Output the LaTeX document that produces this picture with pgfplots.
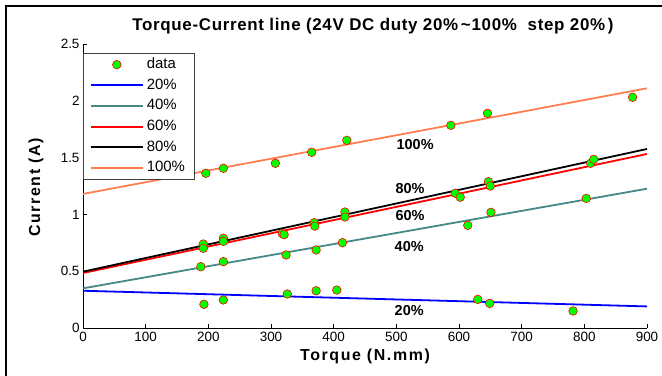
\documentclass[border=0pt]{standalone}
\usepackage{pgfplots}
\pgfplotsset{compat=1.18}
\usepackage{fontspec}
\setmainfont{Liberation Sans}
\definecolor{c20}{RGB}{0,0,255}
\definecolor{c40}{RGB}{70,135,135}
\definecolor{c60}{RGB}{255,0,0}
\definecolor{c80}{RGB}{0,0,0}
\definecolor{c100}{RGB}{255,127,80}
\definecolor{mk}{RGB}{0,255,0}
\begin{document}
\begin{tikzpicture}
\useasboundingbox (-83bp,-48bp) rectangle (579bp,328bp);
\begin{axis}[
  scale only axis, width=564bp, height=284bp,
  xmin=0, xmax=900, ymin=0, ymax=2.5,
  axis lines*=left, axis line style={-, line width=0.8bp},
  xtick={0,100,...,900}, ytick={0,0.5,1,1.5,2,2.5},
  tick align=inside, major tick length=4bp,
  tick style={black, line width=0.6bp},
  /pgf/number format/assume math mode=true,
  ticklabel style={font=\fontsize{13.5}{15}\selectfont},
  yticklabels={0,0.5,1,1.5,2,2.5},
  xticklabel style={yshift=-1bp},
  clip=false,
  legend cell align=left,
  legend style={at={(0,1)}, anchor=north west, yshift=-9bp, draw=black!75, line width=0.6bp,
    font=\fontsize{15}{17}\selectfont, inner xsep=6.5bp, inner ysep=1bp,
    nodes={text height=10.5bp, text depth=3bp, inner ysep=3.6bp, inner xsep=3bp}},
  legend image code/.code={\draw[mark repeat=2,mark phase=2,#1] plot coordinates {(0bp,0bp) (26bp,0bp) (52bp,0bp)};},
]
\addlegendimage{only marks, mark=*, mark size=4.3bp, mark options={fill=mk, draw=red, line width=0.6bp}}
\addlegendentry{data}
\addlegendimage{draw=c20, line width=2bp}
\addlegendentry{20\%}
\addlegendimage{draw=c40, line width=2bp}
\addlegendentry{40\%}
\addlegendimage{draw=c60, line width=2bp}
\addlegendentry{60\%}
\addlegendimage{draw=c80, line width=2bp}
\addlegendentry{80\%}
\addlegendimage{draw=c100, line width=2bp}
\addlegendentry{100\%}
\addplot[draw=c20, line width=1.8bp, forget plot] coordinates {(0,0.328) (900,0.19)};
\addplot[draw=c40, line width=1.8bp, forget plot] coordinates {(0,0.349) (900,1.226)};
\addplot[draw=c60, line width=1.8bp, forget plot] coordinates {(0,0.484) (900,1.532)};
\addplot[draw=c80, line width=1.8bp, forget plot] coordinates {(0,0.496) (900,1.576)};
\addplot[draw=c100, line width=1.8bp, forget plot] coordinates {(0,1.18) (900,2.11)};
\addplot[only marks, mark=*, mark size=4.3bp, mark options={fill=mk, draw=red, line width=0.6bp}, forget plot] coordinates {
 (196,1.362) (224,1.406) (307,1.450) (365,1.547) (421,1.652) (587,1.784) (645.5,1.890) (877,2.031)
 (192,0.739) (192,0.702) (224,0.790) (224,0.763) (318,0.831) (321,0.822) (369,0.927) (370,0.897)
 (418,1.021) (418,0.977) (594,1.186) (602,1.151) (647,1.288) (650,1.250) (810,1.450) (815,1.485)
 (188,0.540) (224,0.584) (324,0.643) (372,0.687) (414,0.751) (614,0.904) (651,1.018) (803,1.141)
 (193,0.209) (224,0.247) (326,0.299) (372,0.328) (405,0.334) (630,0.252) (649,0.217) (782,0.150)
};
\begin{scope}[every node/.style={font=\bfseries\fontsize{14.5}{16}\selectfont}]
\node at (axis cs:530,1.611) {100\%};
\node at (axis cs:522,1.232) {80\%};
\node at (axis cs:522,0.986) {60\%};
\node at (axis cs:520.5,0.713) {40\%};
\node at (axis cs:520.5,0.158) {20\%};
\end{scope}
\end{axis}
\node[font=\bfseries\fontsize{17}{19}\selectfont\addfontfeatures{LetterSpace=4}] at (290bp,302bp) {Torque-Current line (24V DC duty 20\%\,\textasciitilde100\%\ \ step 20\%\,)};
\node[font=\bfseries\fontsize{16}{18}\selectfont\addfontfeatures{LetterSpace=10}] at (282bp,-28bp) {Torque (N.mm)};
\node[font=\bfseries\fontsize{16}{18}\selectfont\addfontfeatures{LetterSpace=10}, rotate=90] at (-47bp,140.5bp) {Current (A)};
\draw[line width=1.5bp] (-77bp,-50bp) -- (-77bp,322bp) -- (581bp,322bp);
\end{tikzpicture}
\end{document}
